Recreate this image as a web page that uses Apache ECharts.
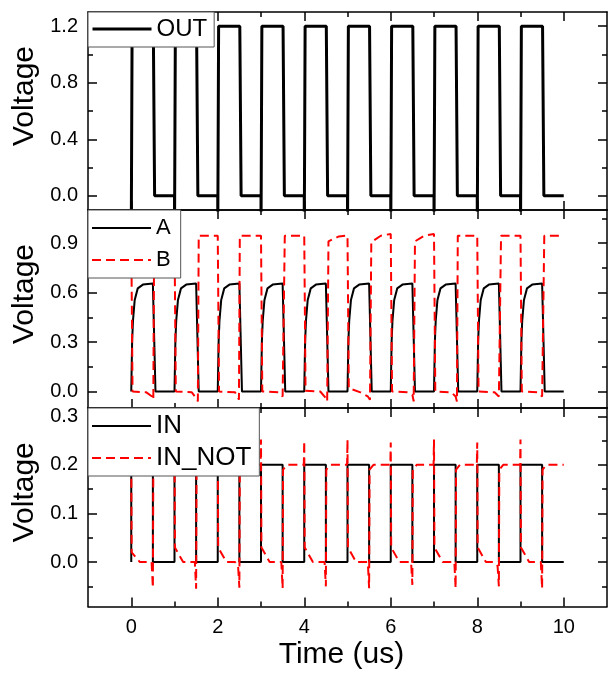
<!DOCTYPE html>
<html>
<head>
<meta charset="utf-8">
<script src="https://cdn.jsdelivr.net/npm/echarts@6/dist/echarts.min.js"></script>
<style>
  html, body { margin: 0; padding: 0; background: #fff; }
  #chart { width: 611px; height: 674px; }
</style>
</head>
<body>
<div id="chart"></div>
<script>
  // time axis (us)
  var xMajor = [0, 2, 4, 6, 8, 10];
  var xMinor = [1, 3, 5, 7, 9];

  // voltage axes, one per panel
  var yRange = [[-0.1, 1.3], [-0.1, 1.1], [-0.0915, 0.317]];
  var yMajor = [[0, 0.4, 0.8, 1.2], [0, 0.3, 0.6, 0.9], [0, 0.1, 0.2, 0.3]];
  var yMinor = [[0.2, 0.6, 1.0], [0.15, 0.45, 0.75, 1.05], [-0.05, 0.05, 0.15, 0.25]];

  // panel 1
  var outData = [
    [0, -0.3], [0.02, 1.2], [0.51, 1.2], [0.54, 0], [1, 0],
    [1, -0.3], [1.02, 1.2], [1.51, 1.2], [1.54, 0], [2, 0],
    [2, -0.3], [2.02, 1.2], [2.51, 1.2], [2.54, 0], [3, 0],
    [3, -0.3], [3.02, 1.2], [3.51, 1.2], [3.54, 0], [4, 0],
    [4, -0.3], [4.02, 1.2], [4.51, 1.2], [4.54, 0], [5, 0],
    [5, -0.3], [5.02, 1.2], [5.51, 1.2], [5.54, 0], [6, 0],
    [6, -0.3], [6.02, 1.2], [6.51, 1.2], [6.54, 0], [7, 0],
    [7, -0.3], [7.02, 1.2], [7.51, 1.2], [7.54, 0], [8, 0],
    [8, -0.3], [8.02, 1.2], [8.51, 1.2], [8.54, 0], [9, 0],
    [9, -0.3], [9.02, 1.2], [9.51, 1.2], [9.54, 0], [10, 0]
  ];

  // panel 2
  var aData = [
    [0, 0], [0.01, 0.15], [0.02, 0.3], [0.04, 0.43], [0.08, 0.555], [0.15, 0.625], [0.27, 0.648], [0.5, 0.655], [0.56, 0],
    [1, 0], [1.01, 0.15], [1.02, 0.3], [1.04, 0.43], [1.08, 0.555], [1.15, 0.625], [1.27, 0.648], [1.5, 0.655], [1.56, 0],
    [2, 0], [2.01, 0.15], [2.02, 0.3], [2.04, 0.43], [2.08, 0.555], [2.15, 0.625], [2.27, 0.648], [2.5, 0.655], [2.56, 0],
    [3, 0], [3.01, 0.15], [3.02, 0.3], [3.04, 0.43], [3.08, 0.555], [3.15, 0.625], [3.27, 0.648], [3.5, 0.655], [3.56, 0],
    [4, 0], [4.01, 0.15], [4.02, 0.3], [4.04, 0.43], [4.08, 0.555], [4.15, 0.625], [4.27, 0.648], [4.5, 0.655], [4.56, 0],
    [5, 0], [5.01, 0.15], [5.02, 0.3], [5.04, 0.43], [5.08, 0.555], [5.15, 0.625], [5.27, 0.648], [5.5, 0.655], [5.56, 0],
    [6, 0], [6.01, 0.15], [6.02, 0.3], [6.04, 0.43], [6.08, 0.555], [6.15, 0.625], [6.27, 0.648], [6.5, 0.655], [6.56, 0],
    [7, 0], [7.01, 0.15], [7.02, 0.3], [7.04, 0.43], [7.08, 0.555], [7.15, 0.625], [7.27, 0.648], [7.5, 0.655], [7.56, 0],
    [8, 0], [8.01, 0.15], [8.02, 0.3], [8.04, 0.43], [8.08, 0.555], [8.15, 0.625], [8.27, 0.648], [8.5, 0.655], [8.56, 0],
    [9, 0], [9.01, 0.15], [9.02, 0.3], [9.04, 0.43], [9.08, 0.555], [9.15, 0.625], [9.27, 0.648], [9.5, 0.655], [9.56, 0],
    [10, 0]
  ];
  var bData = [
    [0, 0.944], [0.03, 0], [0.35, -0.005], [0.48, -0.03], [0.51, -0.05], [0.53, 0.944],
    [1, 0.944], [1.03, 0], [1.4, -0.005], [1.5, -0.04], [1.54, -0.06], [1.56, 0.944],
    [2, 0.944], [2.03, 0], [2.4, -0.005], [2.46, -0.03], [2.49, -0.05], [2.51, 0.944],
    [3, 0.944], [3.03, 0], [3.4, -0.005], [3.5, -0.03], [3.53, -0.04], [3.55, 0.944],
    [4, 0.944], [4.03, 0.005], [4.37, 0], [4.5, -0.04], [4.53, -0.06], [4.56, 0.91], [4.8, 0.94],
    [5, 0.945], [5.03, 0.02], [5.3, -0.005], [5.47, -0.03], [5.52, -0.05], [5.55, 0.905], [5.77, 0.944],
    [6, 0.955], [6.03, 0], [6.4, -0.005], [6.5, -0.02], [6.53, -0.06], [6.56, 0.91], [6.77, 0.944],
    [7, 0.955], [7.03, 0], [7.4, -0.005], [7.5, -0.03], [7.53, -0.06], [7.55, 0.944],
    [8, 0.944], [8.03, 0], [8.4, -0.005], [8.5, -0.03], [8.53, -0.04], [8.55, 0.944],
    [9, 0.944], [9.03, 0], [9.4, -0.005], [9.5, -0.03], [9.53, -0.04], [9.55, 0.944],
    [10, 0.944]
  ];

  // panel 3
  var inData = [
    [0, 0], [0, 0.2], [0.5, 0.2], [0.5, 0],
    [1, 0], [1, 0.2], [1.5, 0.2], [1.5, 0],
    [2, 0], [2, 0.2], [2.5, 0.2], [2.5, 0],
    [3, 0], [3, 0.2], [3.5, 0.2], [3.5, 0],
    [4, 0], [4, 0.2], [4.5, 0.2], [4.5, 0],
    [5, 0], [5, 0.2], [5.5, 0.2], [5.5, 0],
    [6, 0], [6, 0.2], [6.5, 0.2], [6.5, 0],
    [7, 0], [7, 0.2], [7.5, 0.2], [7.5, 0],
    [8, 0], [8, 0.2], [8.5, 0.2], [8.5, 0],
    [9, 0], [9, 0.2], [9.5, 0.2], [9.5, 0],
    [10, 0]
  ];
  var inNotData = [
    [0, 0.2], [0.01, 0.02], [0.2, 0], [0.47, 0], [0.5, -0.053], [0.51, 0.19], [0.6, 0.2], [0.99, 0.2],
    [1, 0.25], [1.01, 0.03], [1.2, 0], [1.47, 0], [1.5, -0.055], [1.51, 0.19], [1.6, 0.2], [1.99, 0.2],
    [2, 0.25], [2.01, 0.03], [2.2, 0], [2.4, 0], [2.47, -0.008], [2.5, -0.053], [2.51, 0.19], [2.6, 0.2], [2.99, 0.2],
    [3, 0.252], [3.01, 0.03], [3.2, 0], [3.47, 0], [3.5, -0.054], [3.51, 0.19], [3.6, 0.2], [3.99, 0.2],
    [4, 0.249], [4.01, 0.03], [4.2, 0], [4.47, 0], [4.5, -0.05], [4.51, 0.19], [4.6, 0.2], [4.99, 0.2],
    [5, 0.252], [5.01, 0.03], [5.2, 0], [5.47, 0], [5.5, -0.054], [5.51, 0.19], [5.6, 0.2], [5.99, 0.2],
    [6, 0.246], [6.01, 0.03], [6.2, 0], [6.47, 0], [6.5, -0.047], [6.51, 0.19], [6.6, 0.2], [6.99, 0.2],
    [7, 0.252], [7.01, 0.03], [7.2, 0], [7.47, 0], [7.5, -0.054], [7.51, 0.19], [7.6, 0.2], [7.99, 0.2],
    [8, 0.246], [8.01, 0.03], [8.2, 0], [8.37, 0], [8.47, -0.008], [8.5, -0.05], [8.51, 0.19], [8.6, 0.2], [8.99, 0.2],
    [9, 0.252], [9.01, 0.03], [9.2, 0], [9.47, 0], [9.5, -0.054], [9.51, 0.19], [9.6, 0.2], [10, 0.2]
  ];

  var FONT = 'Liberation Sans, Arial, sans-serif';
  var grids = [
    { left: 88, top: 12, width: 519, height: 198 },
    { left: 88, top: 210, width: 519, height: 198 },
    { left: 88, top: 408, width: 519, height: 198.5 }
  ];

  var axisLine = { show: true, onZero: false, lineStyle: { color: '#000', width: 1.5 } };
  var noLine = { show: false, onZero: false };

  function xAxisOf(g, pos, ticks, len, major) {
    var showLabel = major && pos === 'bottom' && g === 2;
    var ax = {
      type: 'value', gridIndex: g, position: pos, min: -1, max: 11,
      axisLine: major ? axisLine : noLine,
      axisTick: { show: true, inside: true, length: len, customValues: ticks, lineStyle: { color: '#000', width: 1.5 } },
      axisLabel: {
        show: showLabel, customValues: ticks, margin: 11,
        color: '#000', fontSize: 20, fontFamily: FONT
      },
      splitLine: { show: false }
    };
    if (showLabel) {
      ax.name = 'Time (us)';
      ax.nameLocation = 'middle';
      ax.nameGap = 33;
      ax.nameTextStyle = { color: '#000', fontSize: 30, fontFamily: FONT, padding: [0, 12, 0, 0] };
    }
    return ax;
  }

  function yAxisOf(g, pos, ticks, len, major) {
    var showLabel = major && pos === 'left';
    var ax = {
      type: 'value', gridIndex: g, position: pos, min: yRange[g][0], max: yRange[g][1],
      axisLine: major ? axisLine : noLine,
      axisTick: { show: true, inside: true, length: len, customValues: ticks, lineStyle: { color: '#000', width: 1.5 } },
      axisLabel: {
        show: showLabel, customValues: ticks, margin: 10,
        color: '#000', fontSize: 20, fontFamily: FONT,
        formatter: function (v) { return v.toFixed(1); }
      },
      splitLine: { show: false }
    };
    if (showLabel) {
      ax.name = 'Voltage';
      ax.nameLocation = 'middle';
      ax.nameGap = 43;
      ax.nameTextStyle = { color: '#000', fontSize: 30, fontFamily: FONT, padding: [0, 0, 0, 30] };
    }
    return ax;
  }

  var xAxes = [], yAxes = [];
  for (var g = 0; g < 3; g++) {
    xAxes.push(xAxisOf(g, 'bottom', xMajor, 9, true));
    xAxes.push(xAxisOf(g, 'bottom', xMinor, 5, false));
    xAxes.push(xAxisOf(g, 'top', xMajor, 9, true));
    xAxes.push(xAxisOf(g, 'top', xMinor, 5, false));
    yAxes.push(yAxisOf(g, 'left', yMajor[g], 9, true));
    yAxes.push(yAxisOf(g, 'left', yMinor[g], 5, false));
    yAxes.push(yAxisOf(g, 'right', yMajor[g], 9, true));
    yAxes.push(yAxisOf(g, 'right', yMinor[g], 5, false));
  }

  function line(name, g, data, color, width, dash) {
    return {
      name: name, type: 'line', xAxisIndex: g * 4, yAxisIndex: g * 4,
      data: data, symbol: 'none', showSymbol: false, clip: true, animation: false,
      lineStyle: { color: color, width: width, type: dash || 'solid' },
      itemStyle: { color: color }
    };
  }

  function legendOf(names, top, fontSize, gap, padding) {
    return {
      data: names, orient: 'vertical', left: 88, top: top,
      padding: padding, itemGap: gap, itemWidth: 59, itemHeight: 1,
      backgroundColor: '#fff', borderColor: '#555', borderWidth: 1, borderRadius: 0,
      selectedMode: false,
      itemStyle: { opacity: 0 },
      lineStyle: { width: 'inherit' },
      textStyle: { color: '#000', fontSize: fontSize, fontFamily: FONT }
    };
  }

  var chart = echarts.init(document.getElementById('chart'));
  chart.setOption({
    animation: false,
    backgroundColor: '#fff',
    grid: grids,
    xAxis: xAxes,
    yAxis: yAxes,
    legend: [
      legendOf(['OUT'], 12, 24, 0, [5, 7, 6, 3]),
      legendOf(['A', 'B'], 210, 22, 10, [7, 10, 7, 3]),
      legendOf(['IN', 'IN_NOT'], 408, 26, 6, [5, 8, 5, 3])
    ],
    series: [
      line('OUT', 0, outData, '#000', 3),
      line('A', 1, aData, '#000', 2),
      line('B', 1, bData, '#ff0000', 2, [9, 5]),
      line('IN', 2, inData, '#000', 2),
      line('IN_NOT', 2, inNotData, '#ff0000', 2, [9, 5])
    ]
  });
</script>
</body>
</html>
